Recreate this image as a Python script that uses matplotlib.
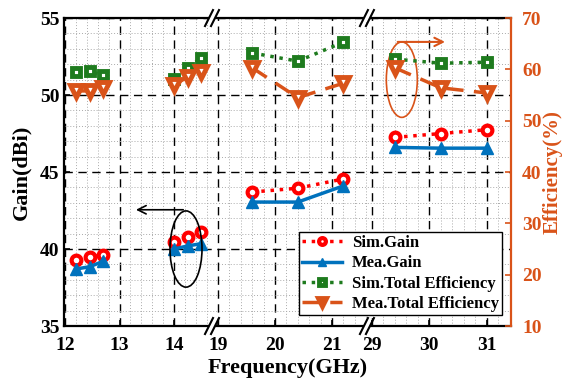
import matplotlib
matplotlib.use("Agg")
import matplotlib.pyplot as plt
from matplotlib.patches import Ellipse, Rectangle
import numpy as np

plt.rcParams['font.family'] = ['Liberation Serif', 'DejaVu Serif']
plt.rcParams['font.weight'] = 'bold'

# data
freq = [12.2, 12.45, 12.7, 14.0, 14.25, 14.5, 19.6, 20.4, 21.2, 29.4, 30.2, 31.0]
sim_gain = [39.3, 39.5, 39.6, 40.45, 40.8, 41.1, 43.7, 43.95, 44.55, 47.25, 47.5, 47.75]
mea_gain = [38.7, 38.85, 39.2, 40.0, 40.2, 40.35, 43.05, 43.05, 44.1, 46.6, 46.55, 46.55]
sim_eff = [59.5, 59.6, 58.9, 58.1, 60.3, 62.2, 63.2, 61.6, 65.3, 62.0, 61.2, 61.4]
mea_eff = [55.8, 55.8, 56.3, 57.0, 58.5, 59.5, 60.3, 54.5, 57.3, 60.3, 56.4, 55.4]
groups = [(0, 3), (3, 6), (6, 9), (9, 12)]
xtick_freqs = [12, 13, 14, 19, 20, 21, 29, 30, 31]

# broken axis mapping (freq -> position)
def to_pos(f):
    f = np.asarray(f, dtype=float)
    return np.where(f < 17, (f - 12) * 54.5,
           np.where(f < 25, 153 + (f - 19) * 57, 307 + (f - 29) * 57.5))

XMIN, XMAX = -1, 446
BREAKS = [147, 302]

RED = '#FF0000'
BLUE = '#0072BD'
GREEN = '#1E7B1E'
ORANGE = '#D95319'

fig = plt.figure(figsize=(5.67, 3.84), dpi=100)
ax = fig.add_axes([0.113, 0.151, 0.788, 0.802])
ax2 = ax.twinx()

ax.set_xlim(XMIN, XMAX)
ax.set_ylim(35, 55)
ax2.set_ylim(10, 70)

# grids
ax.set_xticks(to_pos(xtick_freqs))
ax.set_xticklabels([str(f) for f in xtick_freqs])
minor = np.concatenate([np.arange(12, 14.71, 0.2), np.arange(19, 21.61, 0.2), np.arange(29, 31.41, 0.2)])
ax.set_xticks(to_pos(minor), minor=True)
ax.set_yticks([35, 40, 45, 50, 55])
ax.set_yticks(np.arange(35, 55, 1), minor=True)
ax.grid(which='minor', linestyle=(0, (1, 2)), color='#aaaaaa', linewidth=0.7)
ax.grid(which='major', linestyle=(0, (6, 4)), color='black', linewidth=1.0)
ax.set_axisbelow(True)

ax.tick_params(which='major', direction='in', length=4, width=1.2, labelsize=14, top=False)
ax.tick_params(axis='x', which='major', pad=8)
ax.tick_params(which='minor', length=0)
ax2.set_yticks([10, 20, 30, 40, 50, 60, 70])
ax2.tick_params(direction='in', length=4, width=1.2, labelsize=14, colors=ORANGE, pad=8)

for s in ['left', 'top', 'bottom']:
    ax.spines[s].set_linewidth(1.6)
for s in ['left', 'top', 'bottom']:
    ax2.spines[s].set_visible(False)
ax2.spines['right'].set_color(ORANGE)
ax2.spines['right'].set_linewidth(1.6)
ax.spines['right'].set_visible(False)

# series
h = []
for a, b in groups:
    x = to_pos(freq[a:b])
    l1, = ax.plot(x, sim_gain[a:b], linestyle=':', color=RED, linewidth=2.5,
                  marker='o', markersize=7, markerfacecolor='white', markeredgewidth=3)
    l2, = ax.plot(x, mea_gain[a:b], linestyle='-', color=BLUE, linewidth=2.5,
                  marker='^', markersize=8)
    l3, = ax2.plot(x, sim_eff[a:b], linestyle=':', color=GREEN, linewidth=2.5,
                   marker='s', markersize=6, markerfacecolor='white', markeredgewidth=3.5)
    l4, = ax2.plot(x, mea_eff[a:b], linestyle=(0, (5, 3)), color=ORANGE, linewidth=2.5,
                   marker='v', markersize=8, markerfacecolor='white', markeredgewidth=3.5)
    h = [l1, l2, l3, l4]

# annotations: ellipses and arrows
ax.add_patch(Ellipse((float(to_pos(14.22)), 40.0), 32, 4.95, fill=False,
                     edgecolor='black', linewidth=1.2, zorder=5))
ax.annotate('', xy=(float(to_pos(13.25)), 42.55), xytext=(float(to_pos(14.22)), 42.55),
            arrowprops=dict(arrowstyle='->', color='black', lw=1.2, mutation_scale=15))
ax.add_patch(Ellipse((float(to_pos(29.52)), 51.0), 31, 4.9, fill=False,
                     edgecolor=ORANGE, linewidth=1.2, zorder=5))
ax.annotate('', xy=(float(to_pos(30.32)), 53.45), xytext=(float(to_pos(29.4)), 53.45),
            arrowprops=dict(arrowstyle='->', color=ORANGE, lw=1.5, mutation_scale=15))

ax.set_xlabel('Frequency(GHz)', fontsize=16, fontweight='bold', labelpad=3)
ax.set_ylabel('Gain(dBi)', fontsize=16, fontweight='bold', labelpad=6)
ax2.set_ylabel('Efficiency(%)', fontsize=15, fontweight='bold', color=ORANGE, labelpad=1)

leg = ax2.legend(h, ['Sim.Gain', 'Mea.Gain', 'Sim.Total Efficiency', 'Mea.Total Efficiency'],
                 loc='lower right', bbox_to_anchor=(0.985, 0.03), fontsize=12,
                 handlelength=2.4, frameon=True, fancybox=False, edgecolor='black',
                 framealpha=1, borderpad=0.2, labelspacing=0.25, handletextpad=0.6,
                 borderaxespad=0.1, markerscale=0.7)
leg.get_frame().set_linewidth(1.0)

# break marks on top and bottom spines
sx = 1.0 / (XMAX - XMIN)
ppx = 1.0 / 447
ppy = 1.0 / 308
for b in BREAKS:
    xb = (b - XMIN) * sx
    for yb in (0.0, 1.0):
        ax.add_patch(Rectangle((xb - 3 * ppx, yb - 4 * ppy), 6 * ppx, 8 * ppy,
                               transform=ax.transAxes, facecolor='white',
                               edgecolor='none', clip_on=False, zorder=10))
        for dx in (-3, 3):
            ax.plot([xb + (dx - 4) * ppx, xb + (dx + 4) * ppx],
                    [yb - 8 * ppy, yb + 8 * ppy], transform=ax.transAxes,
                    color='black', linewidth=1.5, clip_on=False, zorder=11)

fig.savefig('out.png', dpi=100)
